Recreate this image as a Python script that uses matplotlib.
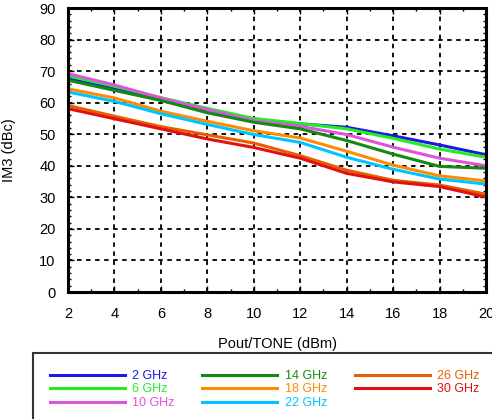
import numpy as np
import matplotlib
matplotlib.use('Agg')
import matplotlib.pyplot as plt
from matplotlib.ticker import MultipleLocator

plt.rcParams['font.family'] = ['Liberation Sans', 'DejaVu Sans']

# output power per tone (dBm)
pout = [2, 4, 6, 8, 10, 12, 14, 16, 18, 20]

# IM3 (dBc) per frequency
im3_2g = [67.6, 64.4, 61.1, 57.7, 54.6, 53.3, 52.2, 49.5, 46.6, 43.5]
im3_6g = [68.5, 65.2, 61.6, 58.2, 55.0, 53.4, 51.7, 48.7, 45.3, 42.7]
im3_10g = [69.2, 65.6, 61.5, 57.8, 54.3, 52.5, 49.9, 45.9, 42.4, 40.0]
im3_14g = [67.1, 63.9, 60.7, 56.8, 53.8, 51.7, 48.0, 43.7, 39.8, 39.2]
im3_18g = [64.4, 61.5, 57.3, 54.1, 51.1, 48.8, 44.6, 40.2, 36.8, 35.2]
im3_22g = [63.4, 60.4, 56.5, 53.1, 49.9, 47.4, 42.7, 38.9, 35.8, 34.2]
im3_26g = [59.1, 55.7, 52.4, 49.8, 47.2, 43.2, 38.6, 35.4, 33.9, 31.0]
im3_30g = [58.1, 54.9, 51.7, 48.5, 45.8, 42.4, 37.6, 34.9, 33.4, 30.1]

labels = ['2 GHz', '6 GHz', '10 GHz', '14 GHz', '18 GHz', '22 GHz', '26 GHz', '30 GHz']
series = [im3_2g, im3_6g, im3_10g, im3_14g, im3_18g, im3_22g, im3_26g, im3_30g]
colors = ['#1a1ae6', '#22ee22', '#dd55dd', '#138a13', '#ff8c00', '#00c4ff', '#e85d00', '#e41010']

fig = plt.figure(figsize=(4.92, 4.19), dpi=100)
ax = fig.add_axes([68/492, 1 - 292/419, (486 - 68)/492, (292 - 8)/419])

for y, c, lab in zip(series, colors, labels):
    ax.plot(pout, y, color=c, lw=2.2, label=lab)

ax.set_xlim(2, 20)
ax.set_ylim(0, 90)
ax.xaxis.set_major_locator(MultipleLocator(2))
ax.yaxis.set_major_locator(MultipleLocator(10))
ax.xaxis.set_minor_locator(MultipleLocator(1))
ax.yaxis.set_minor_locator(MultipleLocator(2))
ax.tick_params(which='both', direction='in', top=True, right=True, labelsize=10.5)
ax.tick_params(axis='x', pad=11)
ax.tick_params(axis='y', pad=9)
ax.tick_params(which='major', length=4, width=1)
ax.tick_params(which='minor', length=2.5, width=1)
ax.grid(True, color='black', lw=1.3, linestyle=(0, (2.5, 2.5)))
for s in ax.spines.values():
    s.set_linewidth(2.2)

ax.set_xlabel('Pout/TONE (dBm)', fontsize=10.5, labelpad=11)
ax.set_ylabel('IM3 (dBc)', fontsize=10.5, labelpad=17)

leg = fig.legend(loc='upper left', bbox_to_anchor=(33/492, 1 - 353/419), borderaxespad=0,
                 ncol=3, fontsize=9, handlelength=6.0, handletextpad=0.6,
                 columnspacing=2.2, labelspacing=0.12, borderpad=1.35,
                 fancybox=False, edgecolor='black', labelcolor='linecolor')
leg.get_frame().set_linewidth(1.5)

fig.savefig('out.png', dpi=100)
